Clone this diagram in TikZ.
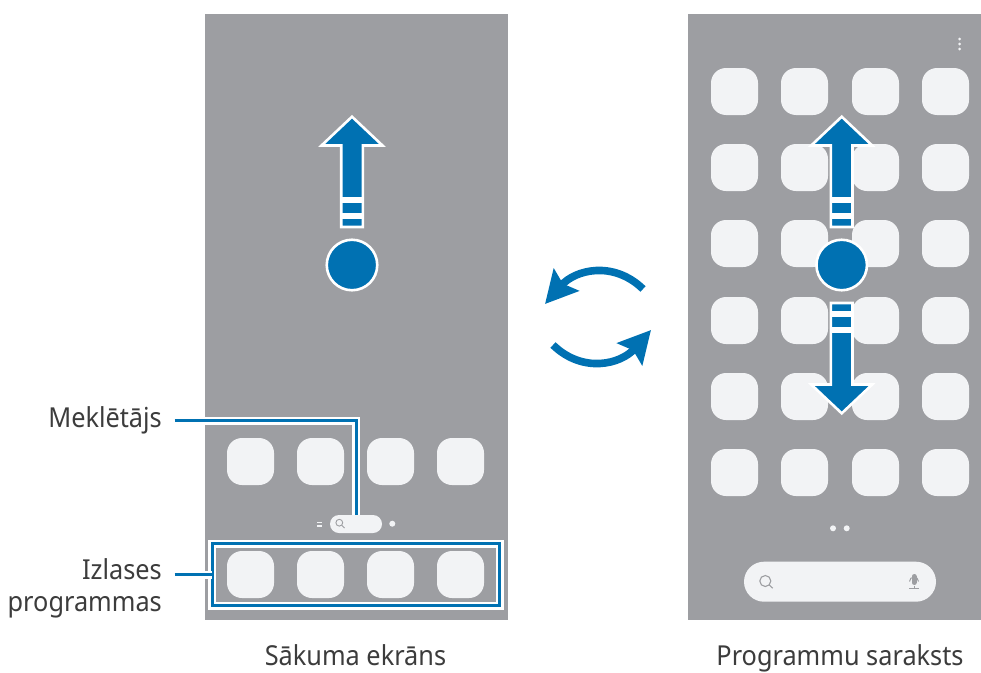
\documentclass[tikz,border=0pt]{standalone}
\usepackage{fontspec}
\setmainfont{Noto Sans}[FakeStretch=0.92]
\usepackage{xcolor}
\usetikzlibrary{arrows.meta, positioning}

\definecolor{screengray}{HTML}{9D9EA2}
\definecolor{iconwhite}{HTML}{F2F3F5}
\definecolor{markblue}{HTML}{0071B2}
\definecolor{textgray}{HTML}{3C3C3C}

\begin{document}
\begin{tikzpicture}[
    x=1pt, y=-1pt,
    screen/.style = {rectangle, fill=screengray, inner sep=0pt, minimum height=606pt},
    appicon/.style = {rectangle, rounded corners=15pt, fill=iconwhite, inner sep=0pt, minimum size=47pt},
    searchbar/.style = {rectangle, rounded corners=9pt, fill=iconwhite, inner sep=0pt},
    pagedot/.style = {circle, fill=iconwhite, inner sep=0pt, minimum size=6pt},
    touch/.style = {circle, fill=markblue, draw=white, line width=2.6pt, inner sep=0pt, minimum size=50.5pt},
    label/.style = {font=\fontsize{27.5}{32}\selectfont, text=textgray, inner sep=0pt, align=right},
    caption/.style = {font=\fontsize{27.5}{32}\selectfont, text=textgray, inner sep=0pt},
    leader/.style = {draw=markblue, line width=3pt, preaction={draw=white, line width=8pt}},
    glass/.style = {draw=screengray, line width=1.1pt},
    swap/.style = {draw=markblue, line width=7.6pt, -{Stealth[length=32pt, width=33pt, inset=5pt]}},
    swipeup/.pic = {
        \draw[fill=markblue, draw=white, line width=2.6pt]
            (0,-148.3) -- (30.5,-119.5) -- (10.8,-119.5) -- (10.8,-38) -- (-10.8,-38)
            -- (-10.8,-119.5) -- (-30.5,-119.5) -- cycle;
        \draw[white, line width=5.4pt] (-10.8,-65) -- (10.8,-65);
        \draw[white, line width=5.4pt] (-10.8,-49) -- (10.8,-49);
    }
]
\useasboundingbox (0,0) rectangle (981,672);

% Screens
\node[screen, minimum width=303pt] (home) at (356.5,317) {};
\node[screen, minimum width=293pt] (apps) at (834.5,317) {};

% Home screen icons
\foreach \i/\x in {1/250.5, 2/320.5, 3/390.5, 4/460.5} {
    \node[appicon] (row\i) at (\x,461.5) {};
    \node[appicon] (fav\i) at (\x,574.5) {};
}

% Apps screen icons
\foreach \i/\x in {1/734.5, 2/804.5, 3/875.5, 4/945.5} {
    \foreach \j/\y in {1/91.5, 2/167.5, 3/243.5, 4/320.5, 5/396.5, 6/472.5} {
        \node[appicon] (app\i\j) at (\x,\y) {};
    }
}

% Home search bar
\node[searchbar, minimum width=52pt, minimum height=18pt] (finder) at (356,524) {};
\draw[glass, line width=0.9pt] (339.3,522.7) circle (3.4);
\draw[glass, line width=0.9pt] (341.8,525.2) -- (344.5,528);
\fill[iconwhite] (316.7,521.6) rectangle (322.3,523.1);
\fill[iconwhite] (316.7,525.2) rectangle (322.3,526.7);
\node[pagedot] (homedot) at (392.3,523.7) {};

% Apps search bar
\node[searchbar, rounded corners=20pt, minimum width=192pt, minimum height=40pt] (appfinder) at (840,581.7) {};
\draw[glass] (765.3,581) circle (5.5);
\draw[glass] (769.3,585) -- (772.7,588.2);
\draw[screengray, line width=5pt, line cap=round] (914,576.5) -- (914,582.5);
\draw[glass, line width=1pt] (909.5,581.5) arc[start angle=180, end angle=0, radius=4.5, y radius=-4.5];
\draw[glass, line width=1pt] (914,586) -- (914,588.7);
\draw[glass, line width=1pt] (909,588.7) -- (919,588.7);

% Page dots and menu
\node[pagedot] (dotleft) at (833,528.3) {};
\node[pagedot] (dotright) at (846.7,528.3) {};
\foreach \y in {39, 44, 49} {
    \node[pagedot, minimum size=3pt] (menu\y) at (959.7,\y) {};
}

% Swipe marks
\pic at (352,265) {swipeup};
\node[touch] (touchhome) at (352,265) {};
\pic at (841.7,265) {swipeup};
\pic[yscale=-1] at (841.7,265) {swipeup};
\node[touch] (touchapps) at (841.7,265) {};

% Swap arrows
\draw[swap] (643,289) .. controls (613,260) and (575,270) .. (545,304);
\draw[swap] (553,345) .. controls (583,374) and (621,364) .. (651,330);

% Labels
\node[label, anchor=base east] (lblfinder) at (162,427.7) {Meklētājs};
\node[label, anchor=base east] (lblfav) at (162,611) {Izlases\\programmas};

% Favourites frame
\node[rectangle, draw=markblue, line width=3pt, preaction={draw=white, line width=8pt},
      inner sep=0pt, outer sep=0pt, minimum width=287.5pt, minimum height=62.2pt]
      (favframe) at (355.75,574.6) {};

% Leaders
\coordinate (finderstart) at (174.5,420.5);
\coordinate (favstart) at (174.5,574.6);
\draw[leader] (finderstart) -| (finder.north);
\draw[leader] (favstart) -- (favframe.west);

% Captions
\node[caption, anchor=base] (caphome) at (355.5,665.7) {Sākuma ekrāns};
\node[caption, anchor=base] (capapps) at (840,665.7) {Programmu saraksts};
\end{tikzpicture}
\end{document}
